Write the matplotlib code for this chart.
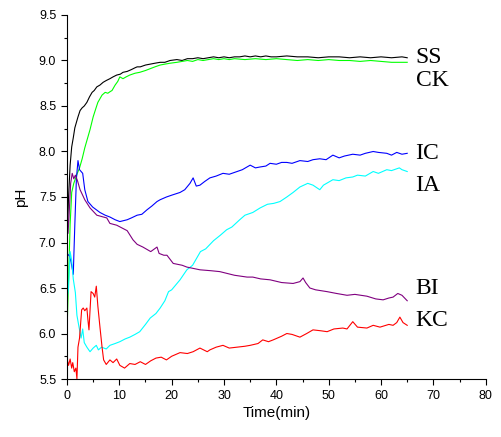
import matplotlib
matplotlib.use("Agg")
import matplotlib.pyplot as plt
from matplotlib.ticker import MultipleLocator

# SS (black)
t_ss = [0, 0.3, 0.6, 0.9, 1.2, 1.5, 1.8, 2.1, 2.5, 2.9, 3.3, 3.8, 4.3, 4.8, 5.2, 5.7,
        6.3, 6.9, 7.5, 8.2, 8.8, 9.5, 10.2, 10.7, 11.5, 12.3, 13.0, 13.4, 14, 15, 15.9,
        16.8, 17.8, 18.7, 19.7, 21, 22, 23, 24, 25, 26, 27, 28, 29, 30, 31, 32, 33, 34,
        35, 36, 37, 38, 39, 40, 42, 44, 46, 48, 50, 52, 54, 56, 58, 60, 62, 64, 65]
ph_ss = [7.0, 7.5, 7.85, 8.05, 8.15, 8.26, 8.32, 8.38, 8.45, 8.48, 8.50, 8.54, 8.60, 8.65,
         8.67, 8.71, 8.73, 8.76, 8.78, 8.80, 8.82, 8.84, 8.85, 8.87, 8.88, 8.90, 8.92, 8.93,
         8.93, 8.95, 8.96, 8.97, 8.98, 8.98, 9.0, 9.01, 9.0, 9.02, 9.02, 9.03, 9.02, 9.03,
         9.04, 9.03, 9.04, 9.03, 9.04, 9.04, 9.05, 9.04, 9.05, 9.04, 9.05, 9.04, 9.04, 9.05,
         9.04, 9.04, 9.03, 9.04, 9.04, 9.03, 9.04, 9.03, 9.04, 9.03, 9.04, 9.03]

# CK (green)
t_ck = [0, 0.3, 0.6, 0.9, 1.3, 1.9, 2.4, 2.9, 3.4, 3.9, 4.4, 5.0, 5.5, 5.9, 6.3, 6.7, 7.3,
        7.8, 8.3, 8.6, 9.2, 9.7, 10.1, 10.7, 11.3, 12.0, 13, 13.9, 15, 15.9, 16.8, 17.8,
        18.7, 19.7, 21, 22, 23, 24, 25, 26, 27, 28, 29, 30, 31, 32, 34, 36, 38, 40, 42, 44,
        46, 48, 50, 52, 54, 56, 58, 60, 62, 64, 65]
ph_ck = [6.0, 6.6, 7.2, 7.55, 7.65, 7.75, 7.82, 7.92, 8.04, 8.14, 8.24, 8.38, 8.47, 8.54,
         8.58, 8.62, 8.65, 8.64, 8.66, 8.67, 8.73, 8.77, 8.82, 8.80, 8.82, 8.84, 8.86, 8.87,
         8.89, 8.91, 8.93, 8.95, 8.96, 8.97, 8.98, 8.99, 9.0, 8.99, 9.01, 9.0, 9.01, 9.02,
         9.01, 9.02, 9.01, 9.02, 9.01, 9.02, 9.01, 9.02, 9.01, 9.0, 9.01, 9.0, 9.01, 9.0,
         9.0, 8.99, 9.0, 8.99, 8.98, 8.98, 8.98]

# IC (blue)
t_ic = [0, 0.5, 0.8, 1.2, 1.5, 1.8, 2.1, 2.4, 3.0, 3.4, 4.0, 4.9, 6.3, 7.3, 8.2, 9.2, 10.1,
        11.5, 12.3, 13.4, 14.3, 15.3, 16.2, 17.2, 17.8, 19, 20, 21.6, 22.5, 23.5, 24.1,
        24.7, 25.4, 26.3, 27.3, 28.5, 29.8, 31, 32.5, 33.5, 35, 36, 36.9, 38, 38.8, 40, 41,
        42, 43, 44.5, 46, 47, 48.3, 49.5, 50.8, 52, 53, 54.6, 56, 57, 58.5, 59.5, 61.1, 62,
        63, 64, 65]
ph_ic = [6.88, 6.85, 6.78, 6.65, 7.2, 7.7, 7.9, 7.8, 7.76, 7.58, 7.45, 7.39, 7.33, 7.30,
         7.28, 7.25, 7.23, 7.25, 7.27, 7.30, 7.31, 7.36, 7.40, 7.45, 7.47, 7.50, 7.52, 7.55,
         7.58, 7.65, 7.71, 7.62, 7.63, 7.67, 7.71, 7.73, 7.76, 7.75, 7.78, 7.80, 7.85, 7.82,
         7.83, 7.84, 7.87, 7.86, 7.88, 7.88, 7.87, 7.90, 7.89, 7.91, 7.92, 7.91, 7.96, 7.93,
         7.95, 7.97, 7.96, 7.98, 8.0, 7.99, 7.98, 7.96, 7.99, 7.97, 7.98]

# IA (cyan)
t_ia = [0, 0.3, 0.6, 0.9, 1.2, 1.6, 1.9, 2.3, 2.7, 3.0, 3.3, 3.8, 4.4, 5.0, 5.6, 6.0, 6.6,
        7.5, 8.2, 9.2, 10.1, 11.1, 12.0, 13, 13.9, 15, 15.9, 17, 17.8, 18.7, 19.4, 20, 21.6,
        22.9, 24, 25.5, 26.5, 28, 29.3, 30.5, 31.5, 33, 34, 35.5, 36.9, 38.3, 39.5, 40.7,
        42, 43.2, 44.5, 46, 47, 48.3, 49, 50.8, 52, 53.3, 54.6, 55.5, 57, 58.5, 59.5, 61.1,
        62, 63.5, 64, 65]
ph_ia = [6.37, 6.5, 6.9, 6.8, 6.6, 6.45, 6.2, 6.07, 5.95, 6.05, 5.9, 5.85, 5.80, 5.84, 5.87,
         5.82, 5.85, 5.83, 5.87, 5.89, 5.91, 5.94, 5.96, 5.99, 6.02, 6.10, 6.17, 6.22, 6.28,
         6.36, 6.46, 6.48, 6.59, 6.70, 6.75, 6.90, 6.93, 7.02, 7.08, 7.14, 7.17, 7.25, 7.30,
         7.33, 7.38, 7.42, 7.43, 7.45, 7.50, 7.55, 7.61, 7.65, 7.63, 7.58, 7.63, 7.69, 7.68,
         7.71, 7.72, 7.74, 7.73, 7.78, 7.76, 7.80, 7.79, 7.82, 7.80, 7.78]

# BI (purple)
t_bi = [0, 0.2, 0.4, 0.7, 1.0, 1.3, 1.6, 2.0, 2.5, 3.4, 4.4, 5.7, 7.6, 8.2, 9.5, 11.5, 12.6,
        13.4, 14.5, 16, 17.2, 17.6, 18.5, 19.1, 20.3, 22, 22.9, 25.4, 27.5, 29.2, 32, 34.4,
        35.5, 37, 38.8, 41, 43.2, 44.5, 45.1, 45.6, 46.4, 47.5, 49.7, 51.5, 53.5, 55, 57.3,
        59, 60.4, 61.5, 62.3, 63.2, 64, 65]
ph_bi = [7.47, 7.1, 7.3, 7.65, 7.76, 7.7, 7.74, 7.68, 7.58, 7.47, 7.38, 7.30, 7.27, 7.21,
         7.19, 7.13, 7.03, 6.98, 6.95, 6.90, 6.95, 6.88, 6.86, 6.86, 6.77, 6.75, 6.73, 6.70,
         6.69, 6.68, 6.64, 6.62, 6.62, 6.60, 6.59, 6.56, 6.55, 6.57, 6.61, 6.56, 6.50, 6.48,
         6.46, 6.44, 6.42, 6.43, 6.41, 6.38, 6.37, 6.39, 6.40, 6.44, 6.42, 6.36]

# KC (red)
t_kc = [0, 0.1, 0.3, 0.6, 0.9, 1.1, 1.4, 1.7, 1.9, 2.1, 2.4, 2.8, 3.1, 3.4, 3.8, 4.0, 4.2,
        4.6, 5.0, 5.3, 5.6, 5.9, 6.3, 6.7, 7.0, 7.5, 8.2, 8.8, 9.5, 10.1, 11, 12, 13, 14,
        15, 16, 17, 18, 19, 20, 21.6, 23, 24.1, 25.4, 26.8, 27.3, 28.5, 29.8, 31, 32.5, 34,
        35, 36.5, 37.4, 38.5, 39.4, 41, 42, 43, 44.5, 45.8, 47, 48.5, 49.7, 51, 52.7, 53.5,
        54.6, 55.5, 57.3, 58.5, 59.8, 61.5, 62.3, 63, 63.6, 64.2, 65]
ph_kc = [6.11, 5.70, 5.65, 5.72, 5.62, 5.68, 5.58, 5.62, 5.5, 5.85, 5.95, 6.26, 6.28, 6.25,
         6.28, 6.15, 6.04, 6.46, 6.44, 6.40, 6.52, 6.30, 6.07, 5.85, 5.71, 5.66, 5.71, 5.68,
         5.72, 5.65, 5.62, 5.67, 5.66, 5.69, 5.66, 5.70, 5.73, 5.74, 5.71, 5.75, 5.79, 5.78,
         5.80, 5.84, 5.80, 5.82, 5.85, 5.87, 5.84, 5.85, 5.86, 5.87, 5.89, 5.93, 5.91, 5.93,
         5.97, 6.0, 5.99, 5.96, 6.0, 6.04, 6.03, 6.02, 6.05, 6.06, 6.05, 6.13, 6.07, 6.06,
         6.09, 6.07, 6.10, 6.09, 6.12, 6.18, 6.12, 6.09]

series = [
    ("SS", t_ss, ph_ss, "black", 9.03),
    ("CK", t_ck, ph_ck, "#00ff00", 8.78),
    ("IC", t_ic, ph_ic, "#0000ff", 7.98),
    ("IA", t_ia, ph_ia, "#00ffff", 7.63),
    ("BI", t_bi, ph_bi, "#800080", 6.49),
    ("KC", t_kc, ph_kc, "#ff0000", 6.14),
]

fig = plt.figure(figsize=(5.01, 4.37), dpi=100)
ax = fig.add_axes([0.1337, 0.1327, 0.8358, 0.833])

for name, t, ph, col, ylab in series:
    ax.plot(t, ph, color=col, lw=0.8)
    ax.text(66.6, ylab, name, color="black", fontsize=17, va="center", ha="left",
            family="Liberation Serif")

ax.set_xlim(0, 80)
ax.set_ylim(5.5, 9.5)
ax.xaxis.set_major_locator(MultipleLocator(10))
ax.xaxis.set_minor_locator(MultipleLocator(5))
ax.yaxis.set_major_locator(MultipleLocator(0.5))
ax.yaxis.set_minor_locator(MultipleLocator(0.25))
ax.yaxis.set_major_formatter(plt.FormatStrFormatter("%.1f"))

ax.spines["top"].set_visible(False)
ax.spines["right"].set_visible(False)
ax.tick_params(which="major", direction="out", length=4.3, width=0.8, labelsize=9)
ax.tick_params(which="minor", direction="out", length=2.3, width=0.8)
for lab in ax.get_xticklabels() + ax.get_yticklabels():
    lab.set_family("Liberation Sans")

ax.set_xlabel("Time(min)", fontsize=11, family="Liberation Sans", labelpad=3)
ax.set_ylabel("pH", fontsize=11, family="Liberation Sans", labelpad=8)

fig.savefig("out.png", dpi=100)
